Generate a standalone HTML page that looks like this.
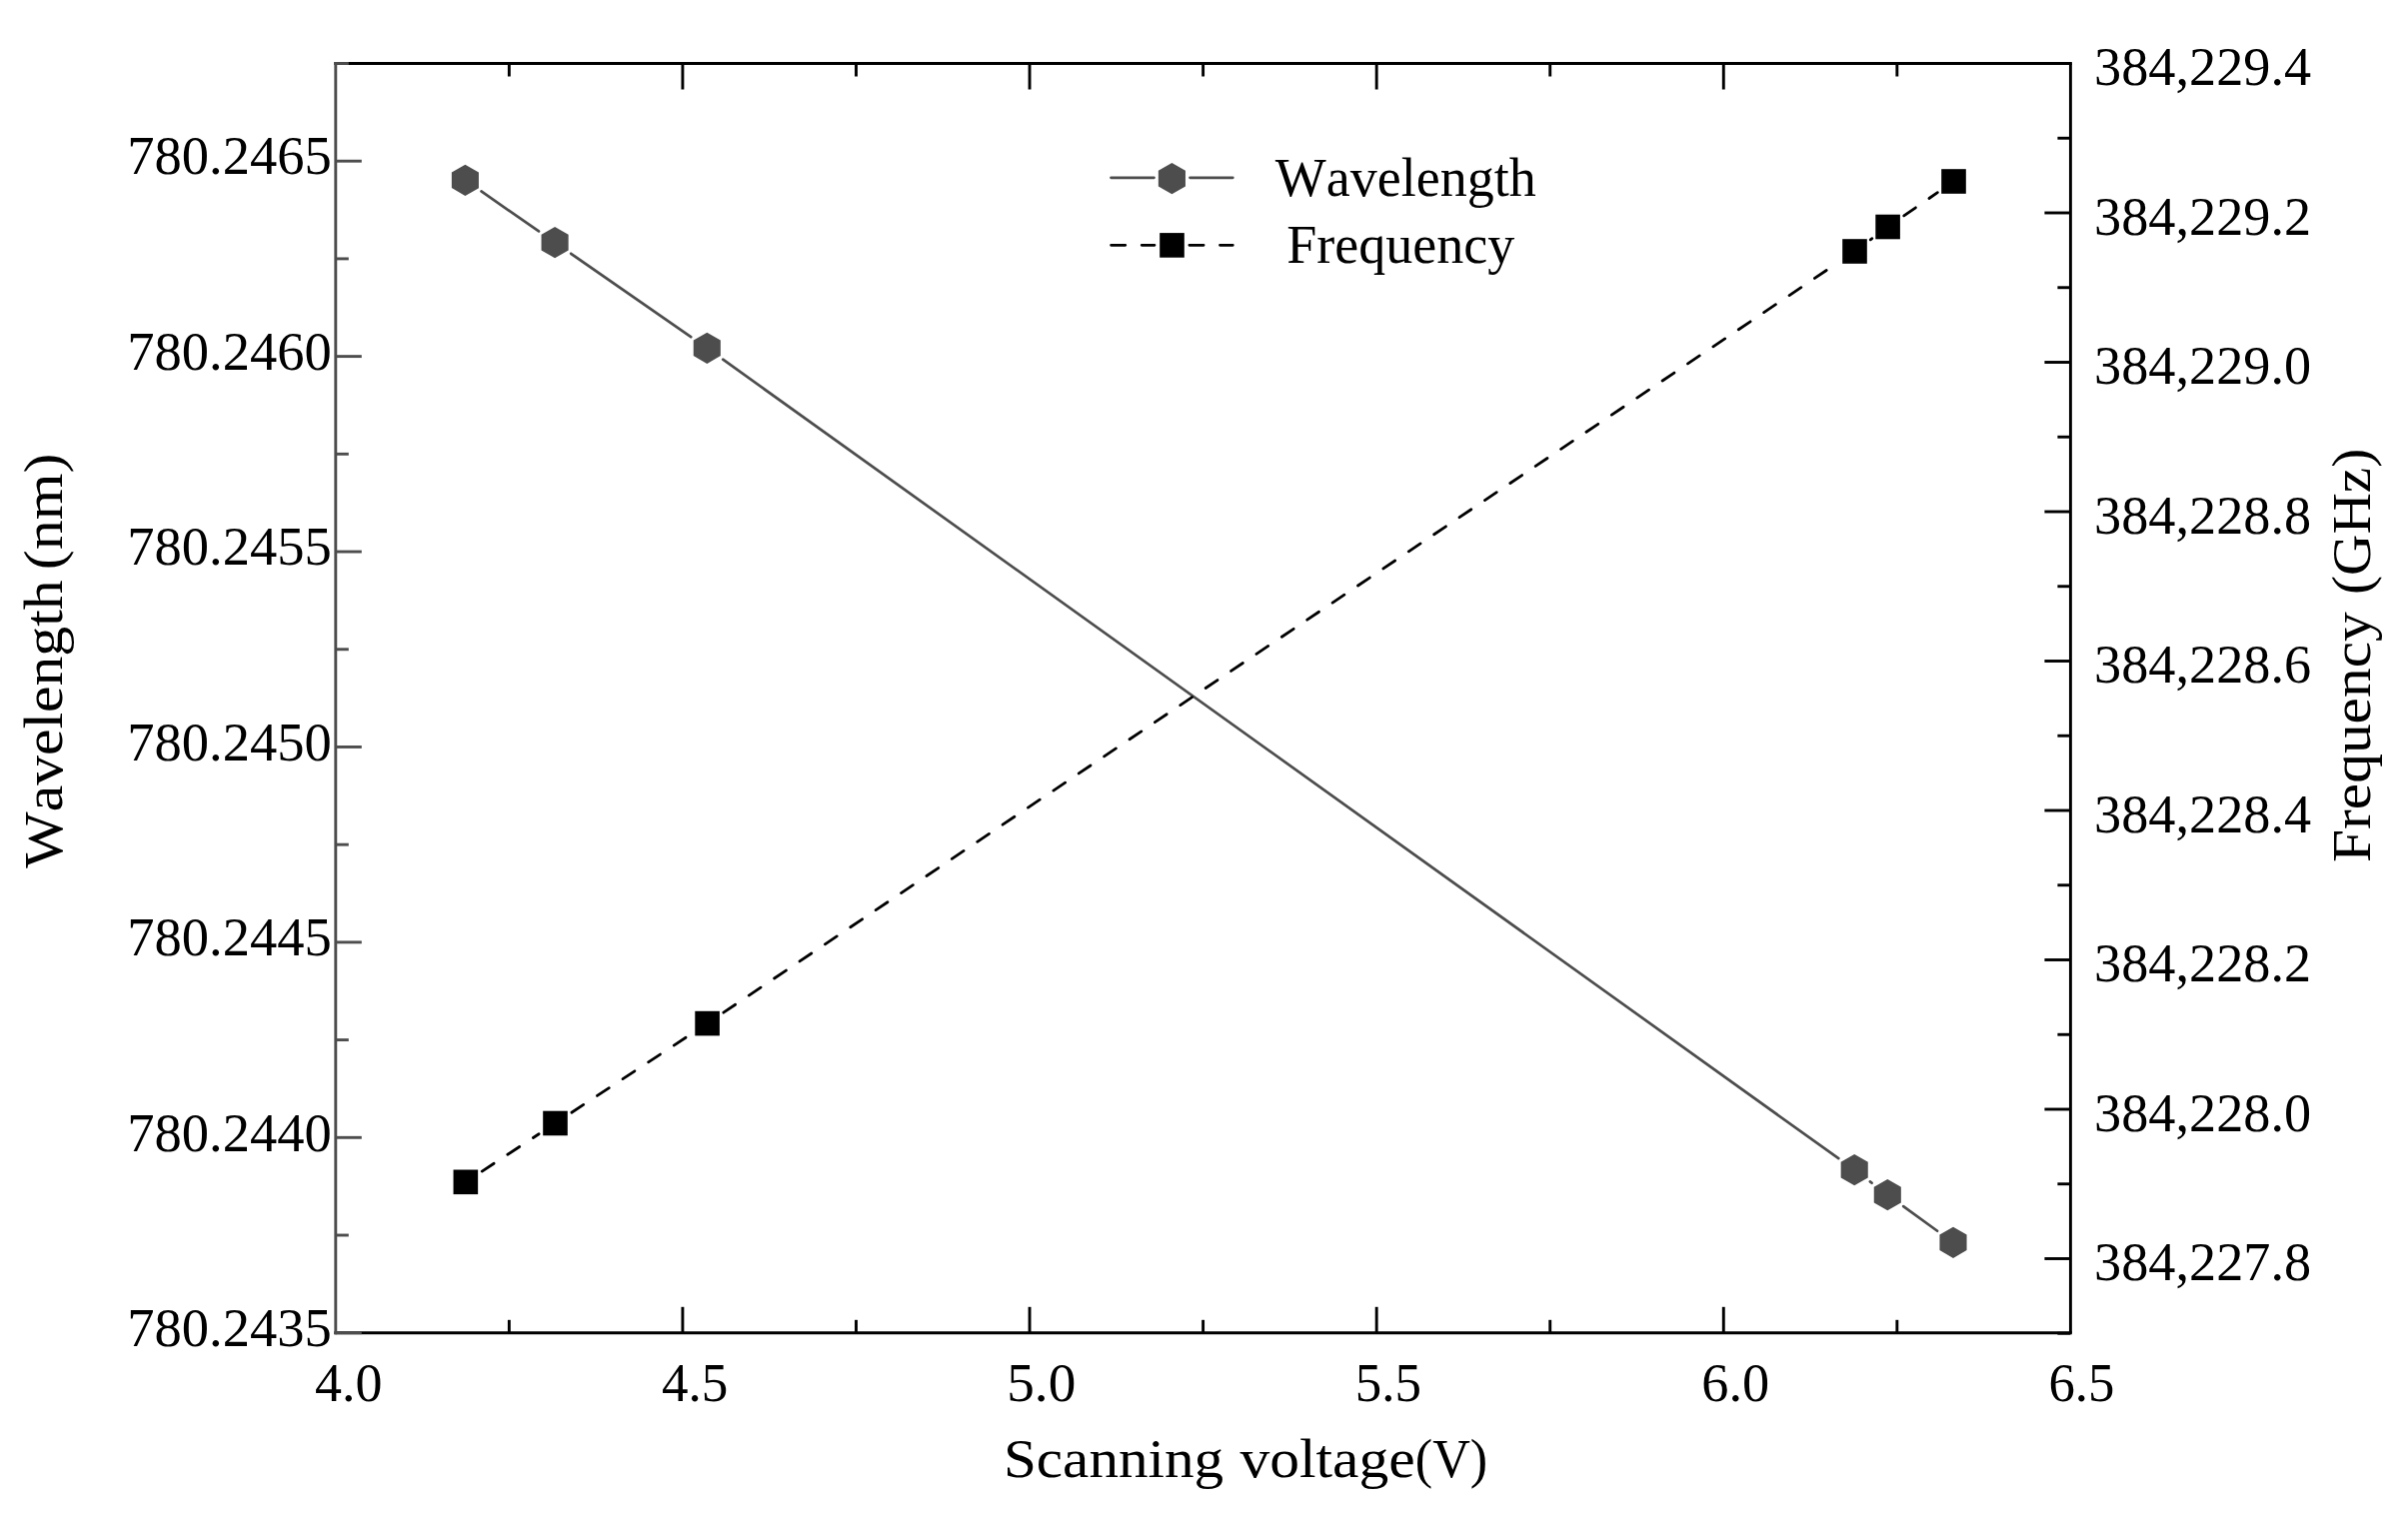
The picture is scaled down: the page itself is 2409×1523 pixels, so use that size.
<!DOCTYPE html>
<html lang="en"><head><meta charset="utf-8"><title>Wavelength and frequency vs scanning voltage</title>
<style>html,body{margin:0;padding:0;background:#fff}body{width:2409px;height:1523px;overflow:hidden}svg{display:block}text{font-family:"Liberation Serif",serif;fill:#000}</style></head><body>
<svg width="2409" height="1523" viewBox="0 0 2409 1523">
<rect width="2409" height="1523" fill="#fff"/>
<g stroke="#000" stroke-width="2.90" stroke-linecap="butt" fill="none">
<line x1="334.35" y1="63.50" x2="2072.85" y2="63.50"/>
<line x1="334.35" y1="1333.80" x2="2072.85" y2="1333.80"/>
<line x1="2071.40" y1="63.50" x2="2071.40" y2="1333.80"/>
<line x1="509.36" y1="1333.80" x2="509.36" y2="1320.80"/>
<line x1="509.36" y1="63.50" x2="509.36" y2="76.50"/>
<line x1="682.92" y1="1333.80" x2="682.92" y2="1307.80"/>
<line x1="682.92" y1="63.50" x2="682.92" y2="89.50"/>
<line x1="856.48" y1="1333.80" x2="856.48" y2="1320.80"/>
<line x1="856.48" y1="63.50" x2="856.48" y2="76.50"/>
<line x1="1030.04" y1="1333.80" x2="1030.04" y2="1307.80"/>
<line x1="1030.04" y1="63.50" x2="1030.04" y2="89.50"/>
<line x1="1203.60" y1="1333.80" x2="1203.60" y2="1320.80"/>
<line x1="1203.60" y1="63.50" x2="1203.60" y2="76.50"/>
<line x1="1377.16" y1="1333.80" x2="1377.16" y2="1307.80"/>
<line x1="1377.16" y1="63.50" x2="1377.16" y2="89.50"/>
<line x1="1550.72" y1="1333.80" x2="1550.72" y2="1320.80"/>
<line x1="1550.72" y1="63.50" x2="1550.72" y2="76.50"/>
<line x1="1724.28" y1="1333.80" x2="1724.28" y2="1307.80"/>
<line x1="1724.28" y1="63.50" x2="1724.28" y2="89.50"/>
<line x1="1897.84" y1="1333.80" x2="1897.84" y2="1320.80"/>
<line x1="1897.84" y1="63.50" x2="1897.84" y2="76.50"/>
<line x1="2071.40" y1="63.50" x2="2045.40" y2="63.50"/>
<line x1="2071.40" y1="138.25" x2="2058.40" y2="138.25"/>
<line x1="2071.40" y1="213.00" x2="2045.40" y2="213.00"/>
<line x1="2071.40" y1="287.75" x2="2058.40" y2="287.75"/>
<line x1="2071.40" y1="362.50" x2="2045.40" y2="362.50"/>
<line x1="2071.40" y1="437.25" x2="2058.40" y2="437.25"/>
<line x1="2071.40" y1="512.00" x2="2045.40" y2="512.00"/>
<line x1="2071.40" y1="586.75" x2="2058.40" y2="586.75"/>
<line x1="2071.40" y1="661.50" x2="2045.40" y2="661.50"/>
<line x1="2071.40" y1="736.25" x2="2058.40" y2="736.25"/>
<line x1="2071.40" y1="811.00" x2="2045.40" y2="811.00"/>
<line x1="2071.40" y1="885.75" x2="2058.40" y2="885.75"/>
<line x1="2071.40" y1="960.50" x2="2045.40" y2="960.50"/>
<line x1="2071.40" y1="1035.25" x2="2058.40" y2="1035.25"/>
<line x1="2071.40" y1="1110.00" x2="2045.40" y2="1110.00"/>
<line x1="2071.40" y1="1184.75" x2="2058.40" y2="1184.75"/>
<line x1="2071.40" y1="1259.50" x2="2045.40" y2="1259.50"/>
<line x1="2071.40" y1="1334.25" x2="2058.40" y2="1334.25"/>
</g>
<g stroke="#4d4d4d" stroke-width="2.90" fill="none">
<line x1="335.80" y1="62.05" x2="335.80" y2="1335.25"/>
<line x1="335.80" y1="63.49" x2="348.80" y2="63.49"/>
<line x1="335.80" y1="161.20" x2="361.80" y2="161.20"/>
<line x1="335.80" y1="258.91" x2="348.80" y2="258.91"/>
<line x1="335.80" y1="356.62" x2="361.80" y2="356.62"/>
<line x1="335.80" y1="454.33" x2="348.80" y2="454.33"/>
<line x1="335.80" y1="552.04" x2="361.80" y2="552.04"/>
<line x1="335.80" y1="649.75" x2="348.80" y2="649.75"/>
<line x1="335.80" y1="747.46" x2="361.80" y2="747.46"/>
<line x1="335.80" y1="845.17" x2="348.80" y2="845.17"/>
<line x1="335.80" y1="942.88" x2="361.80" y2="942.88"/>
<line x1="335.80" y1="1040.59" x2="348.80" y2="1040.59"/>
<line x1="335.80" y1="1138.30" x2="361.80" y2="1138.30"/>
<line x1="335.80" y1="1236.01" x2="348.80" y2="1236.01"/>
<line x1="335.80" y1="1333.72" x2="361.80" y2="1333.72"/>
</g>
<g font-size="55.8">
<text x="127.2" y="174.40" textLength="204.6" lengthAdjust="spacingAndGlyphs">780.2465</text>
<text x="127.2" y="369.82" textLength="204.6" lengthAdjust="spacingAndGlyphs">780.2460</text>
<text x="127.2" y="565.24" textLength="204.6" lengthAdjust="spacingAndGlyphs">780.2455</text>
<text x="127.2" y="760.66" textLength="204.6" lengthAdjust="spacingAndGlyphs">780.2450</text>
<text x="127.2" y="956.08" textLength="204.6" lengthAdjust="spacingAndGlyphs">780.2445</text>
<text x="127.2" y="1151.50" textLength="204.6" lengthAdjust="spacingAndGlyphs">780.2440</text>
<text x="127.2" y="1346.92" textLength="204.6" lengthAdjust="spacingAndGlyphs">780.2435</text>
<text x="2095.1" y="85.10" textLength="217.1" lengthAdjust="spacingAndGlyphs">384,229.4</text>
<text x="2095.1" y="234.60" textLength="217.1" lengthAdjust="spacingAndGlyphs">384,229.2</text>
<text x="2095.1" y="384.10" textLength="217.1" lengthAdjust="spacingAndGlyphs">384,229.0</text>
<text x="2095.1" y="533.60" textLength="217.1" lengthAdjust="spacingAndGlyphs">384,228.8</text>
<text x="2095.1" y="683.10" textLength="217.1" lengthAdjust="spacingAndGlyphs">384,228.6</text>
<text x="2095.1" y="832.60" textLength="217.1" lengthAdjust="spacingAndGlyphs">384,228.4</text>
<text x="2095.1" y="982.10" textLength="217.1" lengthAdjust="spacingAndGlyphs">384,228.2</text>
<text x="2095.1" y="1131.60" textLength="217.1" lengthAdjust="spacingAndGlyphs">384,228.0</text>
<text x="2095.1" y="1281.10" textLength="217.1" lengthAdjust="spacingAndGlyphs">384,227.8</text>
<text x="314.94" y="1401.9" textLength="67.49" lengthAdjust="spacingAndGlyphs">4.0</text>
<text x="661.95" y="1401.9" textLength="66.34" lengthAdjust="spacingAndGlyphs">4.5</text>
<text x="1007.23" y="1401.9" textLength="69.04" lengthAdjust="spacingAndGlyphs">5.0</text>
<text x="1355.77" y="1401.9" textLength="66.11" lengthAdjust="spacingAndGlyphs">5.5</text>
<text x="1702.27" y="1401.9" textLength="67.88" lengthAdjust="spacingAndGlyphs">6.0</text>
<text x="2049.43" y="1401.9" textLength="65.95" lengthAdjust="spacingAndGlyphs">6.5</text>
</g>
<g font-size="55.5" style="font-kerning:none">
<text y="1478.4"><tspan x="1003.96" textLength="220.2" lengthAdjust="spacingAndGlyphs">Scanning</tspan> <tspan x="1240.4" textLength="175.2" lengthAdjust="spacingAndGlyphs">voltage</tspan><tspan x="1415.85" textLength="72.4" lengthAdjust="spacingAndGlyphs">(V)</tspan></text>
<text transform="translate(62.1,0) rotate(-90)"><tspan x="-868.7" textLength="288.3" lengthAdjust="spacingAndGlyphs">Wavelength</tspan> <tspan x="-570.3" textLength="116.7" lengthAdjust="spacingAndGlyphs">(nm)</tspan></text>
<text transform="translate(2371.0,0) rotate(-90)"><tspan x="-863.0" textLength="250.7" lengthAdjust="spacingAndGlyphs">Frequency</tspan> <tspan x="-595.0" textLength="146.25" lengthAdjust="spacingAndGlyphs">(GHz)</tspan></text>
</g>
<g stroke="#4d4d4d" stroke-width="2.70" stroke-linecap="round" fill="none">
<line x1="481.50" y1="191.48" x2="539.00" y2="231.42"/>
<line x1="571.20" y1="253.78" x2="691.20" y2="337.12"/>
<line x1="723.23" y1="359.71" x2="1839.27" y2="1159.19"/>
<line x1="1870.84" y1="1182.41" x2="1872.66" y2="1183.79"/>
<line x1="1904.16" y1="1207.12" x2="1938.14" y2="1231.78"/>
<line x1="1111.5" y1="177.8" x2="1154.5" y2="177.8"/><line x1="1190.5" y1="177.8" x2="1233.3" y2="177.8"/>
</g>
<g stroke="#000" stroke-width="2.80" stroke-linecap="round" stroke-dasharray="14.2 16.4" fill="none">
<line x1="482.24" y1="1172.05" x2="539.11" y2="1134.75"/>
<line x1="571.88" y1="1113.24" x2="691.22" y2="1034.86"/>
<line x1="723.86" y1="1013.16" x2="1839.24" y2="262.44"/>
<line x1="1871.25" y1="239.84" x2="1872.85" y2="238.66"/>
<line x1="1904.73" y1="215.86" x2="1938.37" y2="192.64"/>
<line x1="1111.6" y1="245.3" x2="1155.0" y2="245.3"/><line x1="1189.9" y1="245.3" x2="1233.3" y2="245.3"/>
</g>
<g fill="#4d4d4d">
<polygon points="465.40,164.65 451.85,172.48 451.85,188.12 465.40,195.95 478.95,188.13 478.95,172.48"/>
<polygon points="555.10,226.95 541.55,234.78 541.55,250.42 555.10,258.25 568.65,250.43 568.65,234.78"/>
<polygon points="707.30,332.65 693.75,340.48 693.75,356.12 707.30,363.95 720.85,356.12 720.85,340.48"/>
<polygon points="1855.20,1154.95 1841.65,1162.77 1841.65,1178.42 1855.20,1186.25 1868.75,1178.42 1868.75,1162.77"/>
<polygon points="1888.30,1179.95 1874.75,1187.77 1874.75,1203.42 1888.30,1211.25 1901.85,1203.42 1901.85,1187.77"/>
<polygon points="1954.00,1227.65 1940.45,1235.47 1940.45,1251.12 1954.00,1258.95 1967.55,1251.12 1967.55,1235.47"/>
<polygon points="1172.40,162.95 1158.85,170.78 1158.85,186.42 1172.40,194.25 1185.95,186.43 1185.95,170.78"/>
</g>
<g fill="#000">
<rect x="453.55" y="1170.50" width="24.60" height="24.60"/>
<rect x="543.20" y="1111.70" width="24.60" height="24.60"/>
<rect x="695.30" y="1011.80" width="24.60" height="24.60"/>
<rect x="1843.20" y="239.20" width="24.60" height="24.60"/>
<rect x="1876.30" y="214.70" width="24.60" height="24.60"/>
<rect x="1942.20" y="169.20" width="24.60" height="24.60"/>
<rect x="1160.20" y="233.10" width="24.60" height="24.60"/>
</g>
<g font-size="54" style="font-kerning:none">
<text x="1275.8" y="195.7">Wavelength</text>
<text x="1287.3" y="262.9">Frequency</text>
</g>
</svg></body></html>
